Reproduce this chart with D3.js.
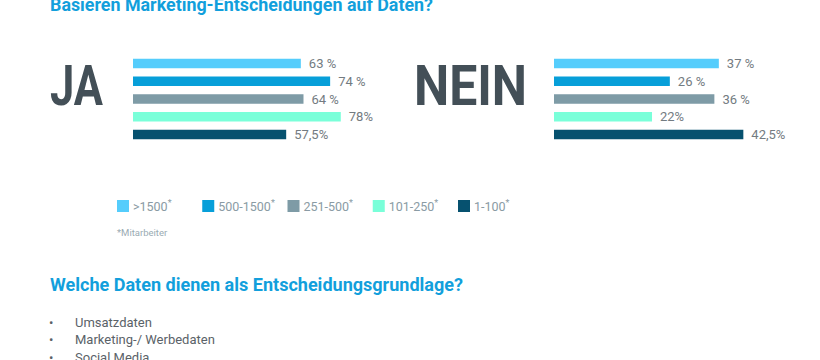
<!DOCTYPE html>
<html>
<head>
<meta charset="utf-8">
<script src="https://cdn.jsdelivr.net/npm/d3@7"></script>
<style>
  html, body { margin: 0; padding: 0; background: #ffffff; }
  svg { display: block; font-family: Roboto, "Noto Sans", sans-serif; }
</style>
</head>
<body>
<svg id="chart" width="820" height="360"></svg>
<script>
// ---- data ----
const categories = [">1500", "500-1500", "251-500", "101-250", "1-100"];
const jaValues = [63, 74, 64, 78, 57.5];
const jaLabels = ["63 %", "74 %", "64 %", "78%", "57,5%"];
const neinValues = [37, 26, 36, 22, 42.5];
const neinLabels = ["37 %", "26 %", "36 %", "22%", "42,5%"];
const colors = ["#55cdfc", "#079fd9", "#7e9ba6", "#7affd9", "#06516f"];
const bulletItems = ["Umsatzdaten", "Marketing-/ Werbedaten", "Social Media"];
const title1 = "Basieren Marketing-Entscheidungen auf Daten?";
const title2 = "Welche Daten dienen als Entscheidungsgrundlage?";
const footnote = "*Mitarbeiter";

// ---- drawing ----
const svg = d3.select("#chart");
svg.append("rect").attr("width", 820).attr("height", 360).attr("fill", "#ffffff");

const color = d3.scaleOrdinal().domain(categories).range(colors);
const yRow = d3.scalePoint().domain(categories).range([63.5, 134.5]);
const barH = 9.5;

svg.append("text")
  .attr("x", 50).attr("y", 11)
  .attr("font-size", 18).attr("font-weight", 700)
  .attr("fill", "#129fdc")
  .attr("textLength", 383).attr("lengthAdjust", "spacingAndGlyphs")
  .text(title1);

function panel(word, wordX, wordLen, values, labels, x) {
  svg.append("text")
    .attr("x", wordX).attr("y", 104.5)
    .attr("font-size", 56).attr("font-weight", 700)
    .attr("fill", "#434f57")
    .attr("textLength", wordLen).attr("lengthAdjust", "spacingAndGlyphs")
    .text(word);
  const g = svg.append("g");
  const rows = categories.map((c, i) => ({ c, v: values[i], l: labels[i] }));
  g.selectAll("rect").data(rows).join("rect")
    .attr("x", x(0))
    .attr("y", d => yRow(d.c) - barH / 2)
    .attr("width", d => x(d.v) - x(0))
    .attr("height", barH)
    .attr("fill", d => color(d.c));
  g.selectAll("text").data(rows).join("text")
    .attr("x", d => x(d.v) + 8)
    .attr("y", d => yRow(d.c) + 4.6)
    .attr("font-size", 13)
    .attr("fill", "#737b81")
    .text(d => d.l);
}

const xJa = d3.scaleLinear().domain([0, 100]).range([133, 133 + 266.4]);
const xNein = d3.scaleLinear().domain([0, 100]).range([554, 554 + 445.5]);
panel("JA", 50, 53, jaValues, jaLabels, xJa);
panel("NEIN", 414, 113, neinValues, neinLabels, xNein);

// legend
const xLeg = d3.scalePoint().domain(categories).range([117, 458]);
const leg = svg.append("g").selectAll("g").data(categories).join("g")
  .attr("transform", d => `translate(${xLeg(d)},200)`);
leg.append("rect").attr("width", 12).attr("height", 12).attr("fill", d => color(d));
const lt = leg.append("text").attr("x", 16).attr("y", 11)
  .attr("font-size", 12.5).attr("fill", "#8a9ba4");
lt.append("tspan").text(d => d);
lt.append("tspan").attr("dy", -5).attr("font-size", 9).text("*");

svg.append("text")
  .attr("x", 117).attr("y", 236)
  .attr("font-size", 9.5).attr("fill", "#9aabb3")
  .text(footnote);

svg.append("text")
  .attr("x", 50).attr("y", 291)
  .attr("font-size", 18).attr("font-weight", 700)
  .attr("fill", "#129fdc")
  .attr("textLength", 413).attr("lengthAdjust", "spacingAndGlyphs")
  .text(title2);

const yBullet = d3.scalePoint().domain(bulletItems).range([326.5, 361.5]);
const bl = svg.append("g").selectAll("g").data(bulletItems).join("g")
  .attr("transform", d => `translate(0,${yBullet(d)})`);
bl.append("text").attr("x", 49).attr("font-size", 13).attr("fill", "#5a6268").text("•");
bl.append("text").attr("x", 75).attr("font-size", 13).attr("fill", "#5a6268").text(d => d);
</script>
</body>
</html>
